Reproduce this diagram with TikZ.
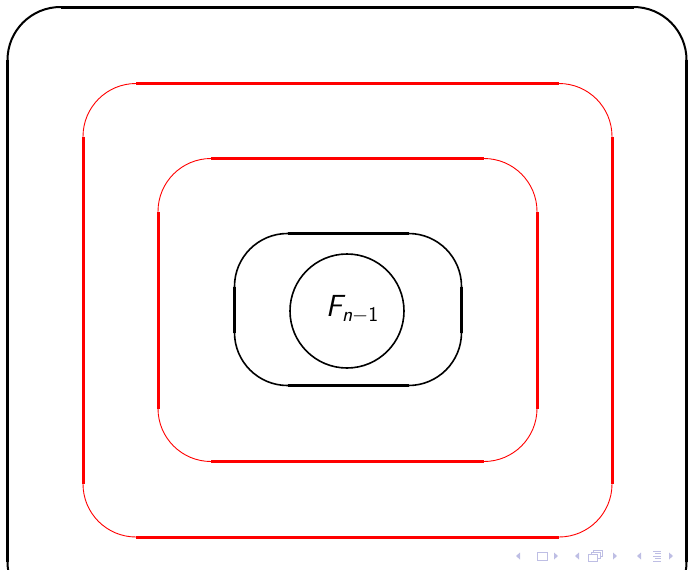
\documentclass[tikz,border=0pt]{standalone}
\usepackage{fontspec}
\definecolor{navc}{RGB}{190,190,228}
\newcommand\myframe[8]{% #1 colour, #2 arc width, #3 line width, #4 x1, #5 y1, #6 x2, #7 y2, #8 radius
  \draw[#1,line width=#2,rounded corners=#8pt] (#4,#5) rectangle (#6,#7);
  \draw[#1,line width=#3] (#4+#8,#5) -- (#6-#8,#5);
  \draw[#1,line width=#3] (#4+#8,#7) -- (#6-#8,#7);
  \draw[#1,line width=#3] (#4,#5+#8) -- (#4,#7-#8);
  \draw[#1,line width=#3] (#6,#5+#8) -- (#6,#7-#8);
}
\begin{document}
\begin{tikzpicture}[x=1pt,y=-1pt,
  navtri/.style={fill=navc,draw=none},
  navline/.style={draw=navc,line width=1pt}]
\useasboundingbox (0,0) rectangle (688,570);
% outer black frame
\myframe{black}{2pt}{3pt}{7.5}{7}{686.5}{615}{53}
% red frames
\myframe{red}{0.9pt}{3pt}{83}{83.5}{612}{537}{53}
\myframe{red}{0.9pt}{3pt}{158}{158.5}{537}{461.5}{53}
% inner black frame
\myframe{black}{1.6pt}{3pt}{234.5}{233.5}{461.5}{385.5}{53}
% circle
\node (circ) at (347,311) [circle,draw,line width=1.6pt,minimum size=114pt,inner sep=0pt] {};
\node (lbl) at (352,309) [inner sep=0pt] {\fontsize{30.5}{33}\selectfont\sffamily{\slshape F}\raisebox{-5pt}{\fontsize{21}{23}\selectfont{\slshape n}$-$1}};
% navigation symbols
\fill[navtri] (516,556) -- (520,552.5) -- (520,559.5) -- cycle;
\draw[navline] (537.5,552.5) rectangle (547.5,560);
\fill[navtri] (558,556) -- (554,552.5) -- (554,559.5) -- cycle;
\fill[navtri] (575,556) -- (579,552.5) -- (579,559.5) -- cycle;
\draw[navline,fill=white] (593,550) rectangle (602,556.5);
\draw[navline,fill=white] (591,552) rectangle (600,558.5);
\draw[navline,fill=white] (588.5,554.5) rectangle (597.5,561);
\fill[navtri] (617,556) -- (613,552.5) -- (613,559.5) -- cycle;
\fill[navtri] (637,556) -- (641,552.5) -- (641,559.5) -- cycle;
\draw[navline] (653,551) -- (661,551);
\draw[navline] (655,553.5) -- (661,553.5);
\draw[navline] (653,556) -- (661,556);
\draw[navline] (655,558.5) -- (661,558.5);
\draw[navline] (653,561) -- (661,561);
\fill[navtri] (673,556) -- (669,552.5) -- (669,559.5) -- cycle;
\end{tikzpicture}
\end{document}
